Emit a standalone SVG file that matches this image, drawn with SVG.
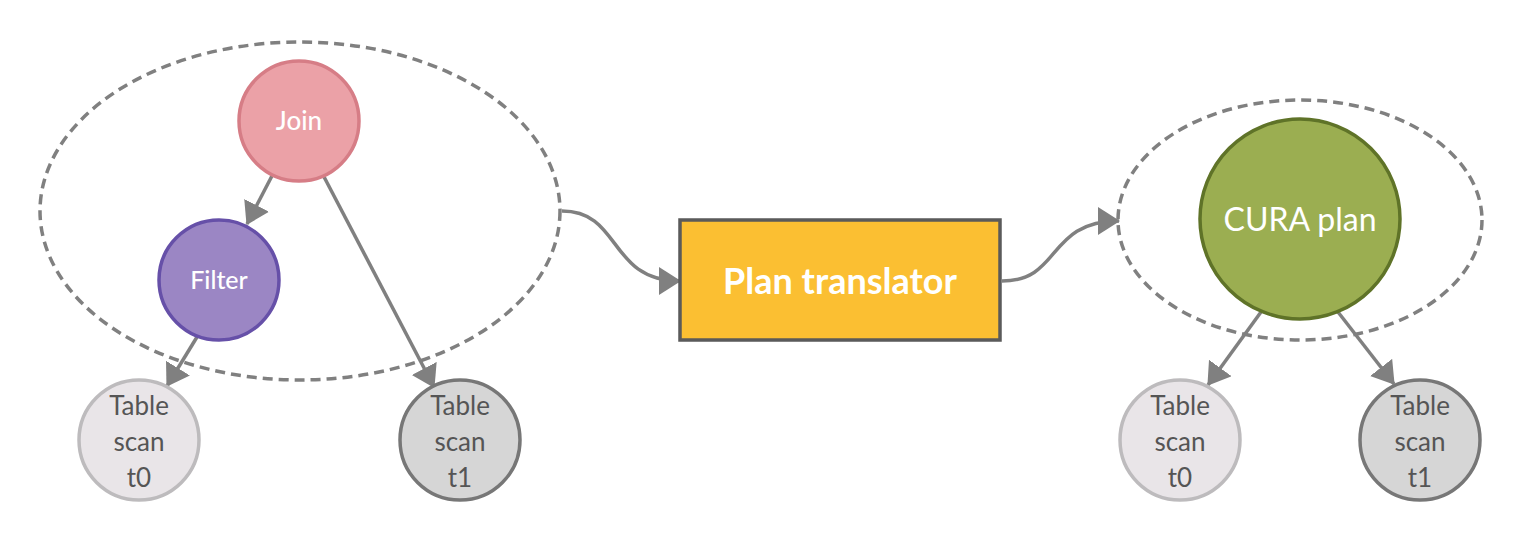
<svg xmlns="http://www.w3.org/2000/svg" width="1520" height="540" viewBox="0 0 1520 540">
<style>
.grp{fill:none;stroke:#808080;stroke-width:3.5;stroke-dasharray:10,6}
.edge{fill:none;stroke:#808080;stroke-width:3.5;marker-end:url(#ah)}
.lbl{font-family:Lato,"Liberation Sans",sans-serif;fill:#fff;text-anchor:middle}
.tl{font-family:Lato,"Liberation Sans",sans-serif;fill:#555;font-size:26px;text-anchor:middle}
.t0{fill:#E9E5E8;stroke:#BDBBBD;stroke-width:3.5}
.t1{fill:#D6D6D6;stroke:#777;stroke-width:3.5}
</style>
<defs>
<marker id="ah" markerUnits="userSpaceOnUse" markerWidth="30" markerHeight="30" refX="21" refY="14" orient="auto">
<path d="M0,0 L22,14 L0,28 Z" fill="#808080"/>
</marker>
</defs>
<rect width="1520" height="540" fill="#fff"/>
<g id="group-left"><ellipse class="grp" cx="300" cy="211" rx="260" ry="169"/></g>
<g id="group-right"><ellipse class="grp" cx="1300" cy="220" rx="182" ry="120"/></g>
<g id="connectors">
<path class="edge" d="M274,172 L247,224"/>
<path class="edge" d="M322,173 L434,387"/>
<path class="edge" d="M197,337 L167,386"/>
<path class="edge" d="M562,211 C622,211 608,281 680,281"/>
<path class="edge" d="M1002,281 C1062,281 1046,221 1119,221"/>
<path class="edge" d="M1261,312 L1208,385"/>
<path class="edge" d="M1338,312 L1394,384"/>
</g>
<g id="join"><circle cx="299" cy="121" r="60" fill="#EBA1A7" stroke="#D67D86" stroke-width="3.5"/><text class="lbl" x="299" y="130" font-size="26" font-weight="500">Join</text></g>
<g id="filter"><circle cx="219" cy="280" r="60" fill="#9B86C4" stroke="#6650A8" stroke-width="3.5"/><text class="lbl" x="219" y="289" font-size="25" font-weight="500">Filter</text></g>
<g id="scan-t0-left"><circle class="t0" cx="139" cy="440" r="60"/><text class="tl"><tspan x="139" y="415">Table</tspan><tspan x="139" y="451">scan</tspan><tspan x="139" y="487">t0</tspan></text></g>
<g id="scan-t1-left"><circle class="t1" cx="460" cy="440" r="60"/><text class="tl"><tspan x="460" y="415">Table</tspan><tspan x="460" y="451">scan</tspan><tspan x="460" y="487">t1</tspan></text></g>
<g id="translator"><rect x="680" y="220" width="320" height="120" fill="#FBBF32" stroke="#5a5a5a" stroke-width="3.5"/><text class="lbl" x="840" y="294" font-size="36" font-weight="bold">Plan translator</text></g>
<g id="cura"><circle cx="1300" cy="219" r="100" fill="#9BAE51" stroke="#5F7328" stroke-width="3.5"/><text class="lbl" x="1300" y="231" font-size="32">CURA plan</text></g>
<g id="scan-t0-right"><circle class="t0" cx="1180" cy="440" r="60"/><text class="tl"><tspan x="1180" y="415">Table</tspan><tspan x="1180" y="451">scan</tspan><tspan x="1180" y="487">t0</tspan></text></g>
<g id="scan-t1-right"><circle class="t1" cx="1420" cy="440" r="60"/><text class="tl"><tspan x="1420" y="415">Table</tspan><tspan x="1420" y="451">scan</tspan><tspan x="1420" y="487">t1</tspan></text></g>
</svg>
